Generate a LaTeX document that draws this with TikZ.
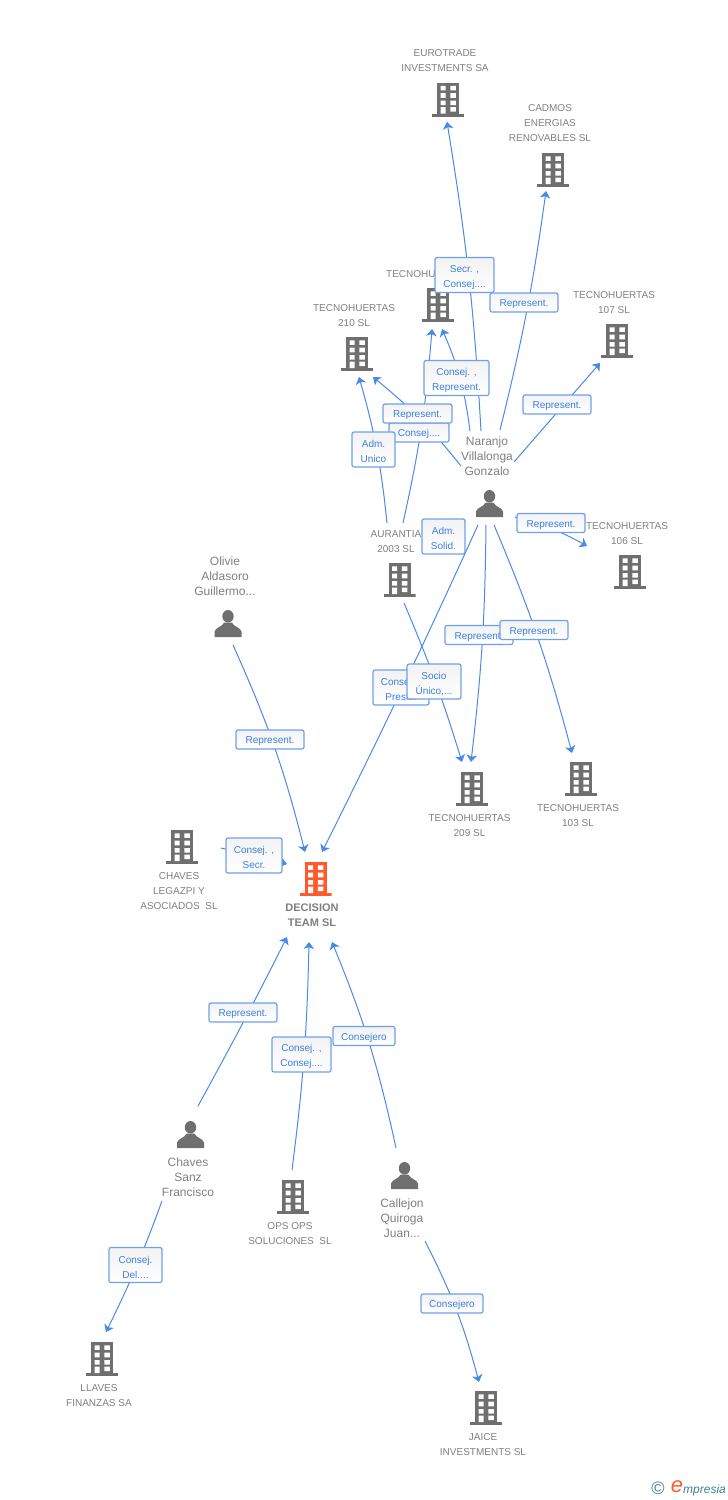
\documentclass[tikz,border=0pt]{standalone}
\usepackage{fontspec}
\setmainfont{Liberation Sans}
\usetikzlibrary{arrows.meta, positioning}

\definecolor{iconGray}{HTML}{6F6F6F}
\definecolor{textGray}{HTML}{7F7F7F}
\definecolor{linkBlue}{HTML}{4A8AE6}
\definecolor{boxBlue}{HTML}{6FA0EA}
\definecolor{labBlue}{HTML}{3C7FE0}
\definecolor{mainOrange}{HTML}{FF5A2B}
\definecolor{logoTeal}{HTML}{3E7F98}

\newcommand{\buildingicon}[1]{%
  \begin{scope}[shift={(path picture bounding box.center)}]
    \fill[#1] (-11,-17) rectangle (11,14);
    \fill[#1] (-16,14) rectangle (16,17);
    \foreach \wy in {-13.7,-6.3,1}
      \fill[white] (-7.5,\wy) rectangle (-2.3,\wy+4.6) (2.3,\wy) rectangle (7.8,\wy+4.6);
    \fill[white] (-7.5,7.7) rectangle (-2.3,14) (2.3,7.7) rectangle (7.8,12);
  \end{scope}}
\newcommand{\personicon}{%
  \begin{scope}[shift={(path picture bounding box.center)}]
    \fill[iconGray] (0,-7.2) ellipse (5.7 and 6.3);
    \fill[iconGray] (-13.5,13.5) -- (-13.5,8) .. controls (-12.5,4) and (-6,3.5) .. (-3.8,-1)
      -- (3.8,-1) .. controls (6,3.5) and (12.5,4) .. (13.5,8) -- (13.5,13.5) -- cycle;
  \end{scope}}
\newcommand{\twolines}[2]{\rule{0pt}{12pt}#1\\#2}

\tikzset{
  firm/.style={minimum width=32pt, minimum height=34pt, inner sep=0pt, path picture={\buildingicon{iconGray}}},
  mainfirm/.style={minimum width=32pt, minimum height=34pt, inner sep=0pt, path picture={\buildingicon{mainOrange}}},
  person/.style={minimum width=27pt, minimum height=27pt, inner sep=0pt, path picture={\personicon}},
  txt/.style={text=textGray, align=center, inner sep=0pt, font=\fontsize{10}{15}\selectfont},
  ptxt/.style={text=textGray, align=center, inner sep=0pt, font=\fontsize{12}{15}\selectfont},
  link/.style={color=linkBlue, line width=1pt, -{Stealth[length=7pt,width=10.5pt,inset=1.8pt]}},
  lab/.style={draw=boxBlue, line width=1.2pt, rounded corners=2pt, top color=black!5, bottom color=white,
    text=labBlue, align=center, inner sep=0pt, minimum height=19pt, font=\fontsize{10}{15}\selectfont},
  one/.style={execute at begin node={\rule{0pt}{10.5pt}}},
  two/.style={minimum height=35pt}
}

\begin{document}
\begin{tikzpicture}[x=1pt, y=-1pt]
\useasboundingbox (0,0) rectangle (728,1500);

% firms and persons
\node[firm] (eurotrade) at (448,99.5) {};
\node[firm] (cadmos) at (553,170) {};
\node[firm] (huertasx) at (438,305) {};
\node[firm] (huertas210) at (357,354) {};
\node[firm] (huertas107) at (617,341) {};
\node[firm] (huertas106) at (630,572) {};
\node[firm] (aurantia) at (399.5,580) {};
\node[firm] (huertas209) at (472,789) {};
\node[firm] (huertas103) at (581,779) {};
\node[firm] (legazpi) at (182,847) {};
\node[mainfirm] (decision) at (315.5,879) {};
\node[firm] (ops) at (293,1197) {};
\node[firm] (llaves) at (102,1359) {};
\node[firm] (jaice) at (486,1408) {};
\node[person] (naranjo) at (489.5,503.5) {};
\node[person] (olivie) at (228,623.5) {};
\node[person] (sanz) at (190.5,1134.5) {};
\node[person] (callejon) at (404.5,1175.5) {};

% names
\node[txt] (eurotrade_t) at (445,60.5) {EUROTRADE\\INVESTMENTS SA};
\node[txt] (cadmos_t) at (550,123) {CADMOS\\ENERGIAS\\RENOVABLES SL};
\node[txt, anchor=west] (huertasx_t) at (386,274) {TECNOHUERTAS};
\node[txt] (huertas210_t) at (354,315.5) {TECNOHUERTAS\\210 SL};
\node[txt] (huertas107_t) at (614,302.5) {TECNOHUERTAS\\107 SL};
\node[txt] (huertas106_t) at (627,533.5) {TECNOHUERTAS\\106 SL};
\node[txt] (aurantia_t) at (396,541.5) {AURANTIA\\2003 SL};
\node[txt] (huertas209_t) at (469.5,825.5) {TECNOHUERTAS\\209 SL};
\node[txt] (huertas103_t) at (578,815.5) {TECNOHUERTAS\\103 SL};
\node[txt] (legazpi_t) at (179,891) {CHAVES\\LEGAZPI Y\\ASOCIADOS\ \ SL};
\node[txt, font=\fontsize{11}{15}\selectfont\bfseries] (decision_t) at (312,915.5) {DECISION\\TEAM SL};
\node[txt] (ops_t) at (290,1233.5) {OPS OPS\\SOLUCIONES\ \ SL};
\node[txt] (llaves_t) at (99,1395.5) {LLAVES\\FINANZAS SA};
\node[txt] (jaice_t) at (483,1444.5) {JAICE\\INVESTMENTS SL};
\node[ptxt] (naranjo_t) at (487,456) {Naranjo\\Villalonga\\Gonzalo};
\node[ptxt] (olivie_t) at (225,576) {Olivie\\Aldasoro\\Guillermo...};
\node[ptxt] (sanz_t) at (188,1177) {Chaves\\Sanz\\Francisco};
\node[ptxt] (callejon_t) at (402,1218) {Callejon\\Quiroga\\Juan...};

% free ends of the connectors
\coordinate (nar_a) at (481,431);
\coordinate (nar_b) at (470,431);
\coordinate (nar_c) at (461,466);
\coordinate (nar_d) at (500,430);
\coordinate (nar_e) at (514,462);
\coordinate (nar_f) at (515,517);
\coordinate (nar_g) at (486,525);
\coordinate (nar_h) at (494,525);
\coordinate (nar_i) at (478,525);
\coordinate (aur_a) at (403,523);
\coordinate (aur_b) at (387,523);
\coordinate (aur_c) at (404,603);
\coordinate (oli_a) at (233,645);
\coordinate (leg_a) at (221,848);
\coordinate (san_a) at (198,1106);
\coordinate (san_b) at (162,1201);
\coordinate (ops_a) at (292,1170);
\coordinate (cal_a) at (396,1148);
\coordinate (cal_b) at (425,1241);
\coordinate (in_eurotrade) at (447,122);
\coordinate (in_cadmos) at (546,191);
\coordinate (in_xa) at (432,329);
\coordinate (in_xb) at (442,329);
\coordinate (in_210a) at (359,377);
\coordinate (in_210b) at (373,377);
\coordinate (in_107) at (600,363);
\coordinate (in_106) at (587,546);
\coordinate (in_209a) at (462,762);
\coordinate (in_209b) at (471,762);
\coordinate (in_103) at (572,753);
\coordinate (in_deca) at (305,852);
\coordinate (in_decb) at (322,852);
\coordinate (in_decc) at (287,864);
\coordinate (in_decd) at (287,937);
\coordinate (in_dece) at (309,942);
\coordinate (in_decf) at (332,942);
\coordinate (in_llaves) at (106,1332);
\coordinate (in_jaice) at (479,1382);

\path[every edge/.style={link, draw}]
	(nar_a) edge [bend right=3] (in_eurotrade)
	(nar_b) edge [bend right=8] (in_xb)
	(aur_a) edge [bend right=4] (in_xa)
	(aur_b) edge [bend right=5] (in_210a)
	(nar_c) edge [bend right=6] (in_210b)
	(nar_d) edge [bend right=3] (in_cadmos)
	(nar_e) edge (in_107)
	(nar_f) edge [bend left=7] (in_106)
	(nar_g) edge [bend left=3] (in_209b)
	(nar_h) edge [bend left=4] (in_103)
	(nar_i) edge [bend left=1] (in_decb)
	(aur_c) edge [bend left=3] (in_209a)
	(oli_a) edge [bend left=5] (in_deca)
	(leg_a) edge (in_decc)
	(san_a) edge [bend right=1] (in_decd)
	(ops_a) edge [bend right=3] (in_dece)
	(cal_a) edge [bend right=5] (in_decf)
	(san_b) edge [bend left=3] (in_llaves)
	(cal_b) edge [bend left=6] (in_jaice);

% labels, the later ones lie on the earlier ones
\node[lab, two, minimum width=59pt] (l_secr) at (464.5,275) {\twolines{Secr. ,}{Consej....}};
\node[lab, one, minimum width=68pt] (l_cadmos) at (524,302.5) {Represent.};
\node[lab, two, minimum width=65pt] (l_x) at (456.5,378) {\twolines{Consej. ,}{Represent.}};
\node[lab, one, minimum width=60pt] (l_xa) at (419,432.5) {Consej....};
\node[lab, one, minimum width=69pt] (l_210) at (417.5,413.5) {Represent.};
\node[lab, two, minimum width=43pt] (l_adm) at (373.5,449.5) {\twolines{Adm.}{Unico}};
\node[lab, one, minimum width=68pt] (l_107) at (557,404.5) {Represent.};
\node[lab, two, minimum width=43pt] (l_solid) at (443.5,536.5) {\twolines{Adm.}{Solid.}};
\node[lab, one, minimum width=68pt] (l_106) at (551,523) {Represent.};
\node[lab, one, minimum width=68pt] (l_209) at (479,635) {Represent.};
\node[lab, one, minimum width=68pt] (l_103) at (534,630) {Represent.};
\node[lab, two, minimum width=56pt] (l_pres) at (401,687.5) {\twolines{Consej. ,}{Presid.}};
\node[lab, two, minimum width=54pt] (l_socio) at (434,681.5) {\twolines{Socio}{Único,...}};
\node[lab, one, minimum width=68pt] (l_olivie) at (270,739.5) {Represent.};
\node[lab, two, minimum width=56pt] (l_legazpi) at (254,855.5) {\twolines{Consej. ,}{Secr.}};
\node[lab, one, minimum width=68pt] (l_sanz) at (243,1012.5) {Represent.};
\node[lab, two, minimum width=59pt] (l_ops) at (301.5,1054.5) {\twolines{Consej. ,}{Consej....}};
\node[lab, one, minimum width=62pt] (l_callejon) at (364,1036) {Consejero};
\node[lab, two, minimum width=53pt] (l_llaves) at (135.5,1265) {\twolines{Consej.}{Del....}};
\node[lab, one, minimum width=62pt] (l_jaice) at (452,1303.5) {Consejero};

% logo
\node[text=logoTeal, inner sep=0pt, font=\fontsize{18}{18}\selectfont] (logo_c) at (658,1488.5) {©};
\node[text=mainOrange, inner sep=0pt, font=\fontsize{22}{22}\selectfont\itshape] (logo_e) at (677,1486.5) {e};
\node[text=logoTeal, inner sep=0pt, anchor=west, font=\fontsize{12}{12}\selectfont\itshape] (logo_t) at (683,1490) {mpresia};
\end{tikzpicture}
\end{document}
